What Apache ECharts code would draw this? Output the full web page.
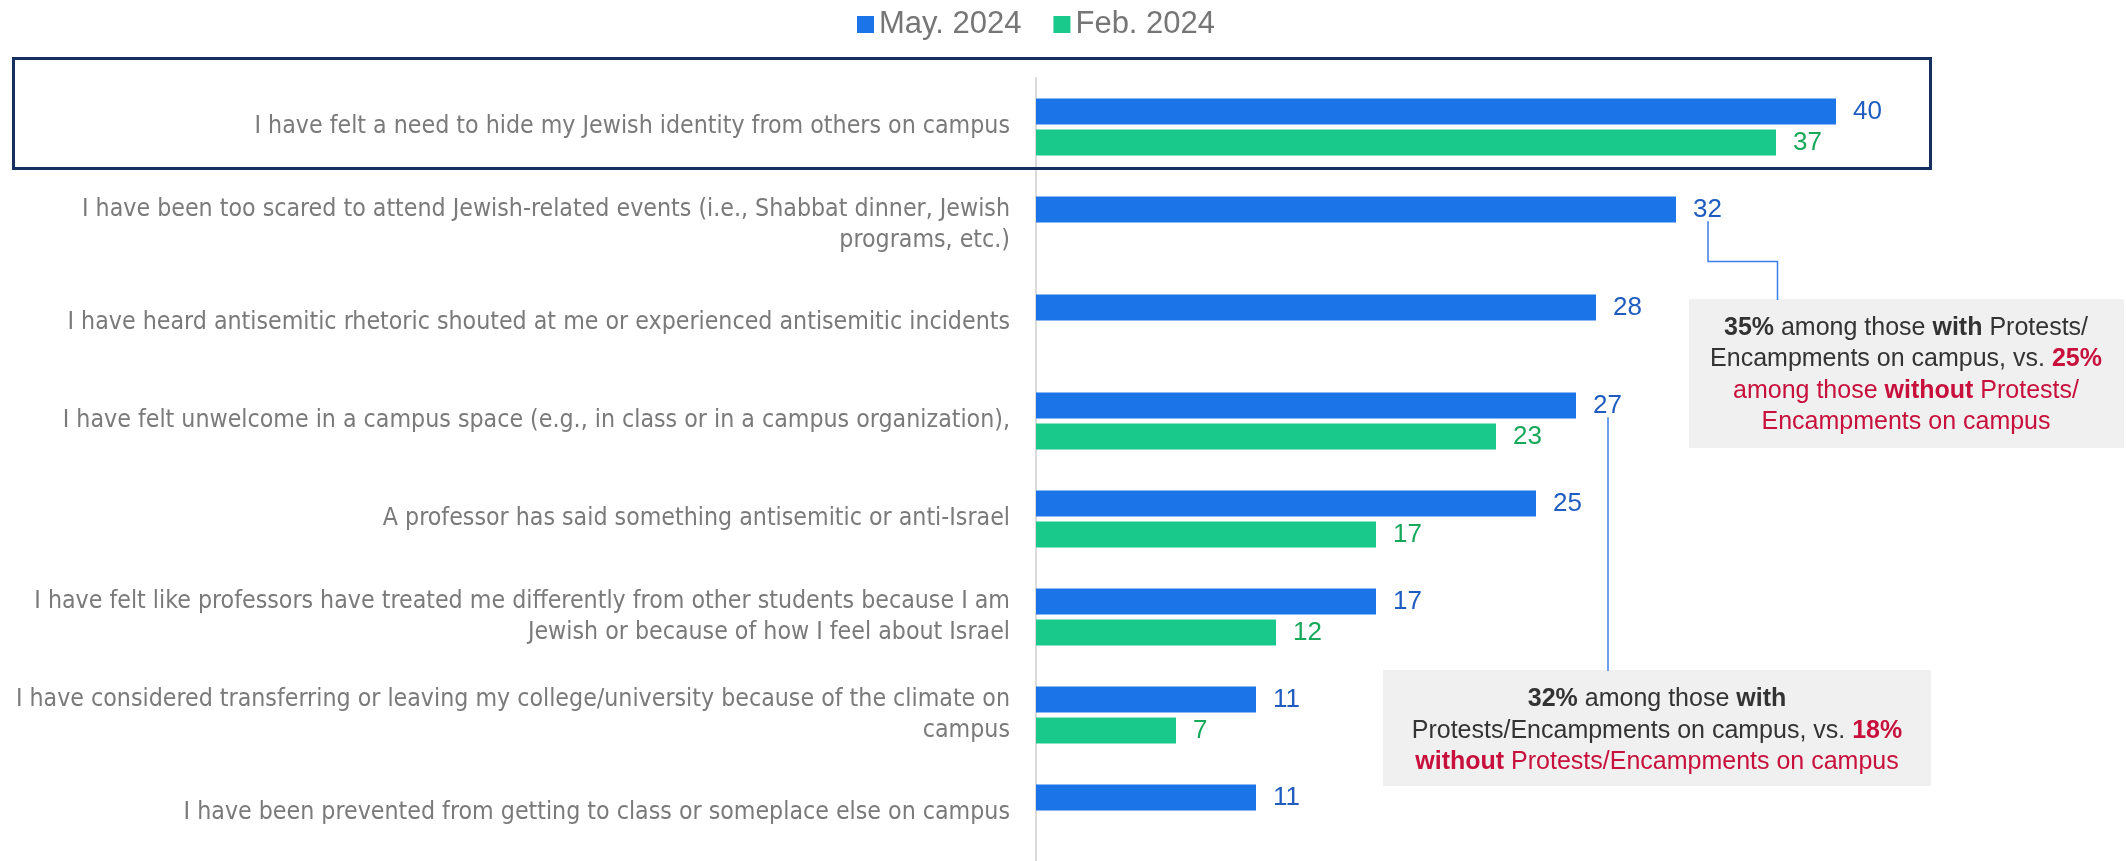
<!DOCTYPE html>
<html>
<head>
<meta charset="utf-8">
<script src="https://cdn.jsdelivr.net/npm/echarts@6/dist/echarts.min.js"></script>
<style>
html,body{margin:0;padding:0;background:#fff;}
#chart{width:2126px;height:861px;}
</style>
</head>
<body>
<div id="chart"></div>
<script>
const categories = [
  "I have felt a need to hide my Jewish identity from others on campus",
  "I have been too scared to attend Jewish-related events (i.e., Shabbat dinner, Jewish\nprograms, etc.)",
  "I have heard antisemitic rhetoric shouted at me or experienced antisemitic incidents",
  "I have felt unwelcome in a campus space (e.g., in class or in a campus organization),",
  "A professor has said something antisemitic or anti-Israel",
  "I have felt like professors have treated me differently from other students because I am\nJewish or because of how I feel about Israel",
  "I have considered transferring or leaving my college/university because of the climate on\ncampus",
  "I have been prevented from getting to class or someplace else on campus"
];
const seriesNames = ["May. 2024", "Feb. 2024"];
const may2024 = [40, 32, 28, 27, 25, 17, 11, 11];
const feb2024 = [37, null, null, 23, 17, 12, 7, null];

const note1 = "{b|35%}{n| among those }{b|with}{n| Protests/}\n{n|Encampments on campus, vs. }{rb|25%}\n{r|among those }{rb|without}{r| Protests/}\n{r|Encampments on campus}";
const note2 = "{b|32%}{n| among those }{b|with}\n{n|Protests/Encampments on campus, vs. }{rb|18%}\n{rb|without}{r| Protests/Encampments on campus}";

const BLUE = "#1b74e8", GREEN = "#19c98b";
const chart = echarts.init(document.getElementById('chart'), null, {renderer: 'canvas'});
const FONT = "'Liberation Sans', Arial, sans-serif";

chart.setOption({
  animation: false,
  backgroundColor: '#ffffff',
  legend: {
    data: seriesNames,
    left: 852, top: 4,
    icon: 'rect', itemWidth: 17, itemHeight: 17, itemGap: 32,
    textStyle: {fontSize: 31, color: '#767676', fontFamily: FONT}
  },
  grid: {left: 1036, top: 78, width: 1000, height: 784, containLabel: false, outerBoundsMode: 'none'},
  xAxis: {type: 'value', min: 0, max: 50, show: false, splitLine: {show: false}},
  yAxis: {
    type: 'category', data: categories, inverse: true,
    axisLine: {show: true, lineStyle: {color: '#dadada', width: 2}},
    axisTick: {show: false},
    axisLabel: {
      margin: 26, color: '#7a7a7a', fontSize: 24.7, lineHeight: 31,
      fontFamily: "'DejaVu Sans Condensed', 'Liberation Sans Narrow', sans-serif",
      align: 'right', hideOverlap: false, padding: [6, 0, 0, 0]
    }
  },
  series: [
    {
      name: seriesNames[0], type: 'bar', data: may2024,
      barWidth: 26, barGap: '20%',
      itemStyle: {color: BLUE},
      label: {show: true, position: 'right', distance: 17, color: '#1f5cc0', fontSize: 26, fontFamily: FONT}
    },
    {
      name: seriesNames[1], type: 'bar', data: feb2024,
      barWidth: 26, barGap: '20%',
      itemStyle: {color: GREEN},
      label: {show: true, position: 'right', distance: 17, color: '#17a85a', fontSize: 26, fontFamily: FONT}
    }
  ]
});

function addGraphics() {
  const p32 = chart.convertToPixel({gridIndex: 0}, [may2024[1], 1]);
  const p27 = chart.convertToPixel({gridIndex: 0}, [may2024[3], 3]);
  const off = -15.8 + 12; // below the May-bar label
  const lx1 = p32[0] + 32, ly1 = p32[1] + off;
  const lx2 = p27[0] + 32, ly2 = p27[1] + off;
  const richStyle = {
    n: {fill: '#333333', fontSize: 25, fontFamily: FONT, lineHeight: 31.5},
    b: {fill: '#333333', fontSize: 25, fontFamily: FONT, fontWeight: 'bold', lineHeight: 31.5},
    r: {fill: '#c8103c', fontSize: 25, fontFamily: FONT, lineHeight: 31.5},
    rb: {fill: '#c8103c', fontSize: 25, fontFamily: FONT, fontWeight: 'bold', lineHeight: 31.5}
  };
  chart.setOption({
    graphic: [
      {type: 'rect', shape: {x: 13.5, y: 58.5, width: 1917, height: 110}, style: {fill: null, stroke: '#15305f', lineWidth: 3}, z: 10},
      {type: 'rect', shape: {x: 1689, y: 299, width: 435, height: 149}, style: {fill: '#f0f0f0'}, z: 1},
      {type: 'rect', shape: {x: 1383, y: 670, width: 548, height: 116}, style: {fill: '#f0f0f0'}, z: 1},
      {type: 'polyline', shape: {points: [[lx1, ly1], [lx1, 261.5], [1777.5, 261.5], [1777.5, 300]]}, style: {fill: null, stroke: '#3d7fe6', lineWidth: 1.5}, z: 5},
      {type: 'line', shape: {x1: lx2, y1: ly2, x2: lx2, y2: 671}, style: {stroke: '#3d7fe6', lineWidth: 1.5}, z: 5},
      {type: 'text', x: 1906, y: 375, style: {text: note1, align: 'center', verticalAlign: 'middle', fontSize: 25, fontFamily: FONT, lineHeight: 31.5, rich: richStyle}, z: 6},
      {type: 'text', x: 1657, y: 731, style: {text: note2, align: 'center', verticalAlign: 'middle', fontSize: 25, fontFamily: FONT, lineHeight: 31.5, rich: richStyle}, z: 6}
    ]
  });
}
addGraphics();
</script>
</body>
</html>
